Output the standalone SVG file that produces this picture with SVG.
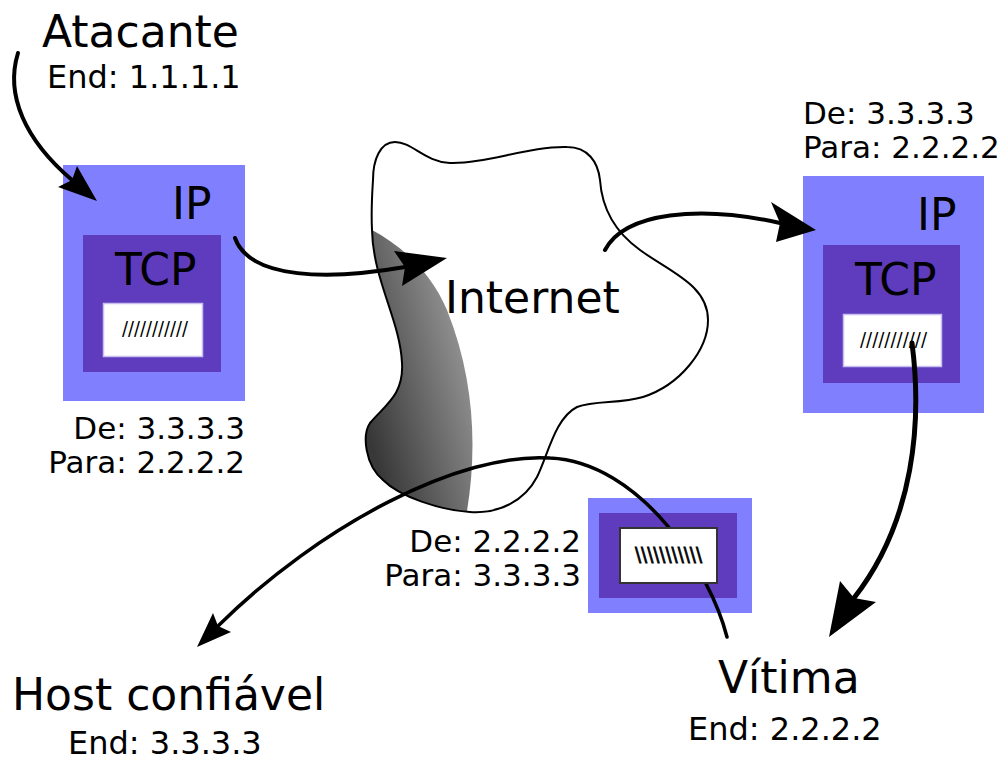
<svg xmlns="http://www.w3.org/2000/svg" xmlns:xlink="http://www.w3.org/1999/xlink" width="1006" height="760" viewBox="0 0 1006 760">
  <style>
    text { font-family: "DejaVu Sans", "Liberation Sans", sans-serif; fill: #000; }
    .big { font-size: 44px; }
    .small { font-size: 32px; }
    .addr { font-size: 31px; }
    .hatch { font-size: 19px; }
    .ip { fill: #8080ff; }
    .tcp { fill: #5e3cbd; }
    .data { fill: #fff; stroke: #c8bff0; stroke-width: 1.5; }
    .line { fill: none; stroke: #000; stroke-width: 4; stroke-linecap: round; }
    .head { fill: #000; stroke: none; }
  </style>
  <defs>
    <linearGradient id="shade" gradientUnits="userSpaceOnUse" x1="368" y1="430" x2="475" y2="400">
      <stop offset="0" stop-color="#383838"/>
      <stop offset="1" stop-color="#8e8e8e"/>
    </linearGradient>
    <clipPath id="replyClip">
      <rect x="588" y="498" width="164" height="115"/>
    </clipPath>
  </defs>

  <rect width="1006" height="760" fill="#fff"/>

  <!-- network cloud -->
  <g id="internet">
    <path d="M373,180 C373,160 380,142 395,142 C412,142 425,162 450,163 C485,164 530,146 567,147 C588,147 598,162 600,180 C602,210 615,232 640,250 C670,272 708,285 708,320 C708,350 680,385 643,397 C620,404 595,400 577,407 C555,418 548,455 537,477 C525,500 500,514 470,512 C440,510 400,497 383,480 C365,465 362,435 370,423 C385,405 404,395 402,363 C400,320 373,280 372,230 C371,210 372,195 373,180 Z" fill="#fff" stroke="none"/>
    <path d="M372,230 C373,280 400,320 402,363 C404,395 385,405 370,423 C362,435 365,465 383,480 C400,497 440,510 467,511 C477,450 475,380 447,310 C430,270 400,245 372,230 Z" fill="url(#shade)"/>
    <path d="M373,180 C373,160 380,142 395,142 C412,142 425,162 450,163 C485,164 530,146 567,147 C588,147 598,162 600,180 C602,210 615,232 640,250 C670,272 708,285 708,320 C708,350 680,385 643,397 C620,404 595,400 577,407 C555,418 548,455 537,477 C525,500 500,514 470,512 C440,510 400,497 383,480 C365,465 362,435 370,423 C385,405 404,395 402,363 C400,320 373,280 372,230 C371,210 372,195 373,180 Z" fill="none" stroke="#000" stroke-width="2"/>
    <text class="big" x="445" y="313">Internet</text>
  </g>

  <!-- attacker -->
  <g id="attacker">
    <text class="big" x="42" y="47">Atacante</text>
    <text class="small" x="47" y="88">End: 1.1.1.1</text>
  </g>

  <!-- packet sent by the attacker -->
  <g id="packet-attacker">
    <rect class="ip" x="63" y="165" width="182" height="236"/>
    <text class="big" x="172" y="219">IP</text>
    <rect class="tcp" x="83" y="235" width="138" height="137"/>
    <text class="big" x="115" y="285">TCP</text>
    <rect class="data" x="103.5" y="303.5" width="99" height="53"/>
    <text class="hatch" x="122" y="335" textLength="66" lengthAdjust="spacingAndGlyphs">///////////</text>
    <text class="addr" x="245" y="439" text-anchor="end">De: 3.3.3.3</text>
    <text class="addr" x="245" y="473" text-anchor="end">Para: 2.2.2.2</text>
  </g>

  <!-- packet arriving at the victim -->
  <g id="packet-forged">
    <text class="addr" x="803" y="124">De: 3.3.3.3</text>
    <text class="addr" x="803" y="158">Para: 2.2.2.2</text>
    <rect class="ip" x="803" y="176" width="181" height="237"/>
    <text class="big" x="917" y="230">IP</text>
    <rect class="tcp" x="823" y="245" width="137" height="138"/>
    <text class="big" x="855" y="295">TCP</text>
    <rect class="data" x="843.5" y="314.5" width="98" height="52"/>
    <text class="hatch" x="860" y="346" textLength="67" lengthAdjust="spacingAndGlyphs">///////////</text>
  </g>

  <!-- connectors -->
  <g id="connectors">
    <path class="line" d="M18,53 C5,95 25,140 72,180"/>
    <polygon class="head" points="97,201 58,187 72,180 77,166"/>
    <path class="line" d="M235,238 C250,280 330,280 405,267"/>
    <polygon class="head" points="447,258 394,251 405,267 402,286"/>
    <path class="line" d="M605,250 C625,212 700,205 780,223"/>
    <polygon class="head" points="816,230 771,202 780,223 776,242"/>
    <path class="line" d="M912,343 C922,420 915,520 854,598" style="stroke-width:5"/>
    <polygon class="head" points="829,637 840,581 854,598 876,602"/>
    <path id="reply-path" class="line" d="M727,637 C710,570 640,462 550,458 C460,452 320,525 218,626" style="stroke-width:3.5"/>
    <polygon class="head" points="197,647 213,613 218,626 231,632"/>
  </g>

  <!-- reply packet from the victim -->
  <g id="packet-reply">
    <rect class="ip" x="588" y="498" width="164" height="115"/>
    <rect class="tcp" x="599" y="513" width="138" height="85"/>
    <use xlink:href="#reply-path" clip-path="url(#replyClip)" style="stroke:#000080"/>
    <rect x="620" y="528" width="97" height="55" fill="#fff" stroke="#333" stroke-width="2"/>
    <text class="hatch" x="635" y="561" textLength="67" lengthAdjust="spacingAndGlyphs" style="stroke:#000;stroke-width:0.8">\\\\\\\\\\\</text>
    <text class="addr" x="581" y="552" text-anchor="end">De: 2.2.2.2</text>
    <text class="addr" x="581" y="586" text-anchor="end">Para: 3.3.3.3</text>
  </g>

  <!-- trusted host -->
  <g id="trusted-host">
    <text class="big" x="12" y="710">Host confiável</text>
    <text class="small" x="68" y="754">End: 3.3.3.3</text>
  </g>

  <!-- victim -->
  <g id="victim">
    <text class="big" x="718" y="693">Vítima</text>
    <text class="small" x="688" y="740">End: 2.2.2.2</text>
  </g>
</svg>
